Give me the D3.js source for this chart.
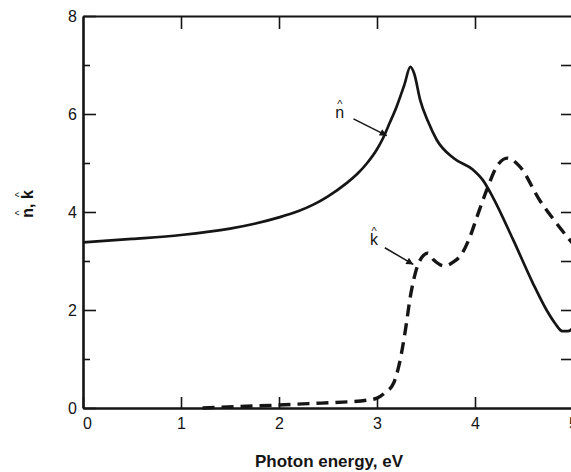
<!DOCTYPE html>
<html><head><meta charset="utf-8">
<script src="https://cdn.jsdelivr.net/npm/d3@7"></script>
<style>
body{margin:0;background:#fff}
svg{display:block}
text{font-family:"Liberation Sans",Arial,Helvetica,sans-serif;fill:#151515}
</style>
</head><body>
<svg id="c" width="571" height="472"></svg>
<script>
// ---- data ----
const nEnergy = [0, 0.5, 1.0, 1.5, 1.75, 2.0, 2.2, 2.35, 2.5, 2.69, 2.8, 2.9, 3.0, 3.06, 3.13, 3.2, 3.28, 3.34, 3.38, 3.44, 3.52, 3.61, 3.78, 3.98, 4.08, 4.18, 4.39, 4.59, 4.73, 4.82, 4.89, 4.95, 5.0];
const nValues = [3.38, 3.45, 3.53, 3.66, 3.76, 3.89, 4.02, 4.15, 4.32, 4.59, 4.78, 5.0, 5.28, 5.5, 5.82, 6.15, 6.6, 6.96, 6.82, 6.29, 5.85, 5.47, 5.10, 4.86, 4.65, 4.31, 3.43, 2.55, 2.0, 1.72, 1.57, 1.57, 1.63];
const kEnergy = [1.22, 1.6, 2.0, 2.3, 2.65, 2.9, 3.0, 3.08, 3.17, 3.23, 3.29, 3.34, 3.41, 3.46, 3.52, 3.58, 3.69, 3.78, 3.87, 3.95, 4.02, 4.12, 4.22, 4.33, 4.46, 4.66, 4.82, 5.0];
const kValues = [0.0, 0.03, 0.06, 0.09, 0.12, 0.16, 0.2, 0.31, 0.51, 0.92, 1.59, 2.27, 2.88, 3.08, 3.16, 3.02, 2.9, 2.98, 3.16, 3.5, 3.9, 4.45, 4.92, 5.10, 4.92, 4.24, 3.8, 3.35];
const xTickValues = [0, 1, 2, 3, 4, 5];
const xTopTicks = [1, 2, 3, 4];
const yMajorTicks = [0, 2, 4, 6, 8];
const yMinorTicks = [1, 3, 5, 7];
const yRightTicks = [1, 2, 3, 4, 5, 6, 7];
const xTitle = "Photon energy, eV";
const nLabel = {x: 2.62, y: 5.92, text: "n", arrowFrom: [2.76, 5.9], arrowTo: [3.1, 5.56]};
const kLabel = {x: 2.97, y: 3.33, text: "k", arrowFrom: [3.08, 3.27], arrowTo: [3.37, 2.93]};

// ---- chart ----
const svg = d3.select("#c");
const x = d3.scaleLinear().domain([0, 5]).range([83, 573]);
const y = d3.scaleLinear().domain([0, 8]).range([408, 16]);
const ink = "#151515";

function styleAxis(g, w) {
  g.select(".domain").attr("stroke", ink).attr("stroke-width", w);
  g.selectAll(".tick line").attr("stroke", ink).attr("stroke-width", 1.6);
  g.selectAll(".tick text").attr("fill", ink).style("font-size", "16px").attr("font-family", null);
}

// bottom
const gB = svg.append("g").attr("transform", `translate(0,${y(0)})`)
  .call(d3.axisBottom(x).tickValues(xTickValues).tickFormat(d3.format("d")).tickSizeInner(-11).tickSizeOuter(0).tickPadding(10));
styleAxis(gB, 2.6);
gB.selectAll(".tick text").attr("dx", d => d === 0 ? 4 : 0);
// top
const gT = svg.append("g").attr("transform", `translate(0,${y(8)})`)
  .call(d3.axisTop(x).tickValues(xTopTicks).tickFormat("").tickSizeInner(-13).tickSizeOuter(0));
styleAxis(gT, 2.2);
// left major
const gL = svg.append("g").attr("transform", `translate(${x(0)},0)`)
  .call(d3.axisLeft(y).tickValues(yMajorTicks).tickFormat(d3.format("d")).tickSizeInner(-13).tickSizeOuter(0).tickPadding(6));
styleAxis(gL, 2.6);
// left minor
const gLm = svg.append("g").attr("transform", `translate(${x(0)},0)`)
  .call(d3.axisLeft(y).tickValues(yMinorTicks).tickFormat("").tickSizeInner(-7).tickSizeOuter(0));
styleAxis(gLm, 0);
gLm.select(".domain").remove();
// right
const gR = svg.append("g").attr("transform", `translate(${x(5)},0)`)
  .call(d3.axisRight(y).tickValues(yRightTicks).tickFormat("").tickSizeInner(-12).tickSizeOuter(0));
styleAxis(gR, 2.2);

// curves
const line = d3.line().x(d => x(d[0])).y(d => y(d[1])).curve(d3.curveMonotoneX);
svg.append("path").datum(d3.zip(nEnergy, nValues)).attr("d", line)
  .attr("fill", "none").attr("stroke", ink).attr("stroke-width", 2.7).attr("stroke-linejoin", "round");
svg.append("path").datum(d3.zip(kEnergy, kValues)).attr("d", line)
  .attr("fill", "none").attr("stroke", ink).attr("stroke-width", 3.4).attr("stroke-dasharray", "12,7");

// arrow marker
svg.append("defs").append("marker").attr("id", "ah").attr("viewBox", "0 0 10 10")
  .attr("refX", 10).attr("refY", 5).attr("markerWidth", 11).attr("markerHeight", 7)
  .attr("markerUnits", "userSpaceOnUse").attr("orient", "auto")
  .append("path").attr("d", "M0,0L10,5L0,10z").attr("fill", ink);

function hatLabel(L) {
  svg.append("text").attr("x", x(L.x)).attr("y", y(L.y))
    .attr("text-anchor", "middle").style("font-size", "16px").text(L.text);
  svg.append("text").attr("x", x(L.x)).attr("y", y(L.y) - 10)
    .attr("text-anchor", "middle").style("font-size", "11px").text("^");
  svg.append("line").attr("x1", x(L.arrowFrom[0])).attr("y1", y(L.arrowFrom[1]))
    .attr("x2", x(L.arrowTo[0])).attr("y2", y(L.arrowTo[1]))
    .attr("stroke", ink).attr("stroke-width", 1.5).attr("marker-end", "url(#ah)");
}
hatLabel(nLabel);
hatLabel(kLabel);

// y title: n̂, k̂ rotated
const yt = svg.append("g").attr("transform", "translate(33,204) rotate(-90)");
const ytxt = yt.append("text").attr("text-anchor", "middle").style("font-size", "16px").style("font-weight", "bold").text("n, k");
const node = ytxt.node();
[0, 3].forEach(i => {
  const ext = node.getExtentOfChar(i);
  yt.append("text").attr("x", ext.x + ext.width / 2).attr("y", -10)
    .attr("text-anchor", "middle").style("font-size", "11px").text("^");
});

// x title
svg.append("text").attr("x", 329).attr("y", 467).attr("text-anchor", "middle")
  .style("font-size", "17px").style("font-weight", "bold").text(xTitle);
</script>
</body></html>
